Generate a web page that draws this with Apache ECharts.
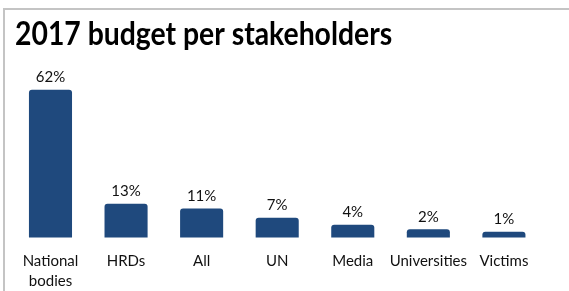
<!DOCTYPE html>
<html><head><meta charset="utf-8">
<script src="https://cdn.jsdelivr.net/npm/echarts@6/dist/echarts.min.js"></script>
<style>html,body{margin:0;padding:0;background:#fff}#c{width:569px;height:291px}</style>
</head><body><div id="c"></div>
<script>
var titleText = '2017 budget per stakeholders';
var categories = ['National\nbodies', 'HRDs', 'All', 'UN', 'Media', 'Universities', 'Victims'];
var values = [62, 13, 11, 7, 4, 2, 1];

var FONT = 'Lato';
var BAR_COLOR = '#1F497D';
var chart = echarts.init(document.getElementById('c'), null, {renderer: 'canvas'});
chart.setOption({
  animation: false,
  backgroundColor: '#fff',
  graphic: [{
    type: 'polyline', silent: true,
    shape: {points: [[4, 291], [4, 9], [569, 9]]},
    style: {stroke: '#c4c4c4', lineWidth: 2, fill: null}
  }, {
    type: 'text', silent: true, x: 15, y: 35, scaleX: 0.9,
    style: {
      text: titleText, fontFamily: FONT, fontWeight: 'bold', fontSize: 31.5,
      fill: '#000', align: 'left', verticalAlign: 'middle'
    }
  }],
  grid: {left: 12.7, right: 27.3, top: 71.2, bottom: 51, containLabel: false},
  xAxis: {
    type: 'category', data: categories,
    axisLine: {show: false}, axisTick: {show: false},
    axisLabel: {fontFamily: FONT, fontSize: 15, color: '#111', margin: 13.5, lineHeight: 20, interval: 0}
  },
  yAxis: {type: 'value', min: -1.5, max: 70, show: false, splitLine: {show: false}},
  series: [{
    type: 'custom',
    data: values.map(function (v, i) { return [i, v]; }),
    encode: {x: 0, y: 1},
    renderItem: function (params, api) {
      var i = api.value(0), v = api.value(1);
      var top = api.coord([i, v]);
      var base = api.coord([i, -1.5]);
      var w = api.size([1, 0])[0] * 0.57;
      return {
        type: 'group',
        children: [{
          type: 'rect',
          shape: {x: top[0] - w / 2, y: top[1], width: w, height: base[1] - top[1], r: [3, 3, 0, 0]},
          style: {fill: BAR_COLOR}
        }, {
          type: 'text',
          x: top[0], y: top[1] - 5,
          style: {
            text: v + '%', fontFamily: FONT, fontSize: 15, fill: '#111',
            align: 'center', verticalAlign: 'bottom'
          }
        }]
      };
    }
  }]
});
</script></body></html>
